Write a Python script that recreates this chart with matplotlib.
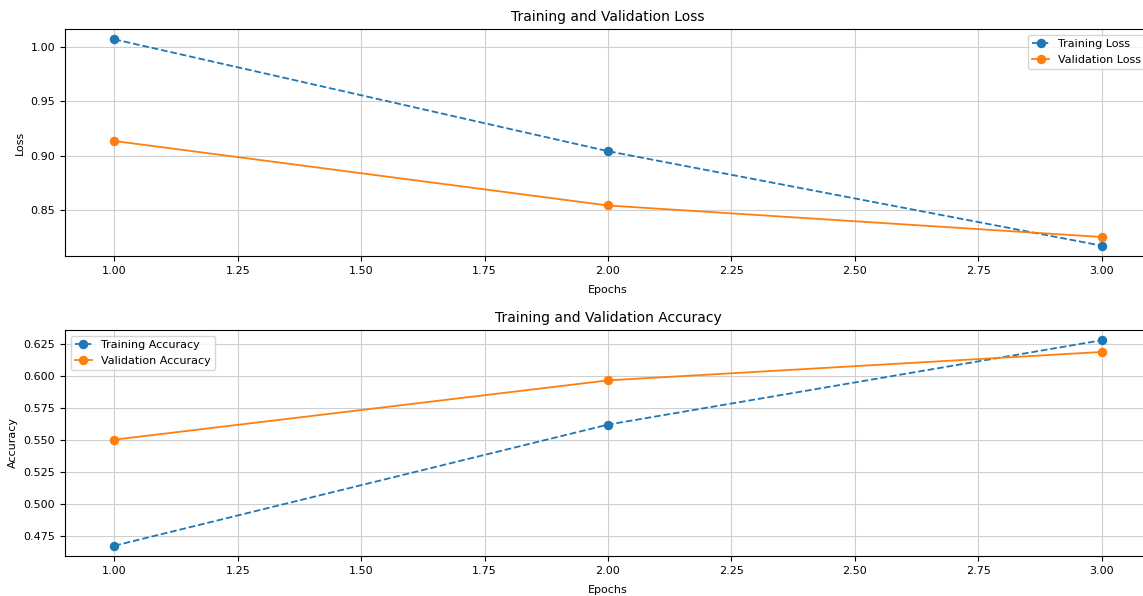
import matplotlib
matplotlib.use("Agg")
import matplotlib.pyplot as plt
from matplotlib.ticker import MultipleLocator, FormatStrFormatter

epochs = [1, 2, 3]
train_loss = [1.007, 0.904, 0.817]
val_loss = [0.9134, 0.854, 0.825]
train_acc = [0.4678, 0.562, 0.6276]
val_acc = [0.5503, 0.5964, 0.6185]

plt.rcParams['font.size'] = 8
plt.rcParams['grid.color'] = '#cfcfcf'
plt.rcParams['lines.linewidth'] = 1.3
plt.rcParams['lines.markersize'] = 5.8
fig = plt.figure(figsize=(11.43, 5.96), dpi=100)

W, H = 1143, 596
left = 65 / W
width = (1151 - 65) / W
ax1 = fig.add_axes([left, 1 - 256 / H, width, (256 - 29) / H])
ax2 = fig.add_axes([left, 1 - 556 / H, width, (556 - 330) / H])

ax1.plot(epochs, train_loss, 'o--', label='Training Loss')
ax1.plot(epochs, val_loss, 'o-', label='Validation Loss')
ax1.set_title('Training and Validation Loss', fontsize=10)
ax1.set_xlabel('Epochs', labelpad=7)
ax1.set_ylabel('Loss')
ax1.yaxis.set_major_locator(MultipleLocator(0.05))
ax1.yaxis.set_major_formatter(FormatStrFormatter('%.2f'))
ax1.legend(loc='upper right', handlelength=1.5)
ax1.grid(True)

ax2.plot(epochs, train_acc, 'o--', label='Training Accuracy')
ax2.plot(epochs, val_acc, 'o-', label='Validation Accuracy')
ax2.set_title('Training and Validation Accuracy', fontsize=10)
ax2.set_xlabel('Epochs', labelpad=7)
ax2.set_ylabel('Accuracy')
ax2.yaxis.set_major_locator(MultipleLocator(0.025))
ax2.yaxis.set_major_formatter(FormatStrFormatter('%.3f'))
ax2.legend(loc='upper left', handlelength=1.5)
ax2.grid(True)

for ax in (ax1, ax2):
    ax.xaxis.set_major_formatter(FormatStrFormatter('%.2f'))

fig.savefig('out.png', dpi=100)
